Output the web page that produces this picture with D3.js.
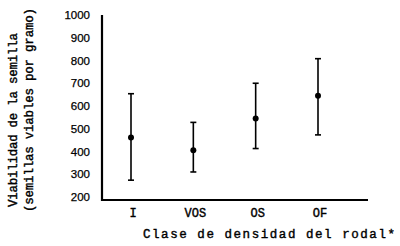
<!DOCTYPE html>
<html>
<head>
<meta charset="utf-8">
<script src="https://cdn.jsdelivr.net/npm/d3@7"></script>
<style>
  body { margin: 0; background: #fff; }
  svg { display: block; }
</style>
</head>
<body>
<svg width="400" height="246"></svg>
<script>
// stand density classes and seed viability (means +/- range)
var categories = ["I", "VOS", "OS", "OF"];
var means = [462, 405, 545, 645];
var upper = [654, 528, 700, 808];
var lower = [274, 310, 413, 473];
var yTicks = [200, 300, 400, 500, 600, 700, 800, 900, 1000];

var svg = d3.select("svg");
var mono = "'Liberation Mono', 'DejaVu Sans Mono', monospace";

var y = d3.scaleLinear().domain([200, 1000]).range([197, 15]);
var x = d3.scalePoint().domain(categories).range([131, 318]);

var axisLeft = 102, axisBottom = 200, axisRight = 368;

// axes lines
svg.append("path")
  .attr("d", "M" + axisLeft + "," + y(1000) + "V" + axisBottom + "H" + axisRight)
  .attr("fill", "none")
  .attr("stroke", "#000")
  .attr("stroke-width", 2.2);

// y tick labels
svg.selectAll(".ytick")
  .data(yTicks)
  .enter().append("text")
  .attr("x", 90)
  .attr("y", function(d) { return y(d); })
  .attr("dy", "0.35em")
  .attr("text-anchor", "end")
  .attr("font-family", "'Liberation Sans', Arial, sans-serif")
  .attr("font-size", 11.5)
  .attr("fill", "#000")
  .attr("stroke", "#000")
  .attr("stroke-width", 0.25)
  .text(function(d) { return d; });

// x tick labels
svg.selectAll(".xtick")
  .data(categories)
  .enter().append("text")
  .attr("x", function(d) { return x(d) + 2; })
  .attr("y", 213)
  .attr("dy", "0.35em")
  .attr("text-anchor", "middle")
  .attr("font-family", mono)
  .attr("font-size", 12)
  .attr("fill", "#000")
  .attr("stroke", "#000")
  .attr("stroke-width", 0.4)
  .text(function(d) { return d; });

// error bars
var g = svg.append("g").attr("stroke", "#000").attr("stroke-width", 1.6);
categories.forEach(function(c, i) {
  g.append("line")
    .attr("x1", x(c)).attr("x2", x(c))
    .attr("y1", y(upper[i])).attr("y2", y(lower[i]));
  [upper[i], lower[i]].forEach(function(v) {
    g.append("line")
      .attr("x1", x(c) - 3).attr("x2", x(c) + 3)
      .attr("y1", y(v)).attr("y2", y(v));
  });
});

// mean points
svg.selectAll(".pt")
  .data(means)
  .enter().append("circle")
  .attr("cx", function(d, i) { return x(categories[i]); })
  .attr("cy", function(d) { return y(d); })
  .attr("r", 3)
  .attr("fill", "#000");

// axis titles
function title(sel) {
  return sel
    .attr("dy", "0.35em")
    .attr("font-family", mono)
    .attr("font-size", 12.5)
    .attr("fill", "#000")
    .attr("stroke", "#000")
    .attr("stroke-width", 0.4);
}

title(svg.append("text"))
  .attr("x", 143)
  .attr("y", 234)
  .attr("textLength", 252)
  .text("Clase de densidad del rodal*");

title(svg.append("text"))
  .attr("transform", "translate(13,120) rotate(-90)")
  .attr("text-anchor", "middle")
  .attr("textLength", 174)
  .text("Viabilidad de la semilla");

title(svg.append("text"))
  .attr("transform", "translate(29,110) rotate(-90)")
  .attr("text-anchor", "middle")
  .attr("textLength", 204)
  .text("(semillas viables por gramo)");
</script>
</body>
</html>
